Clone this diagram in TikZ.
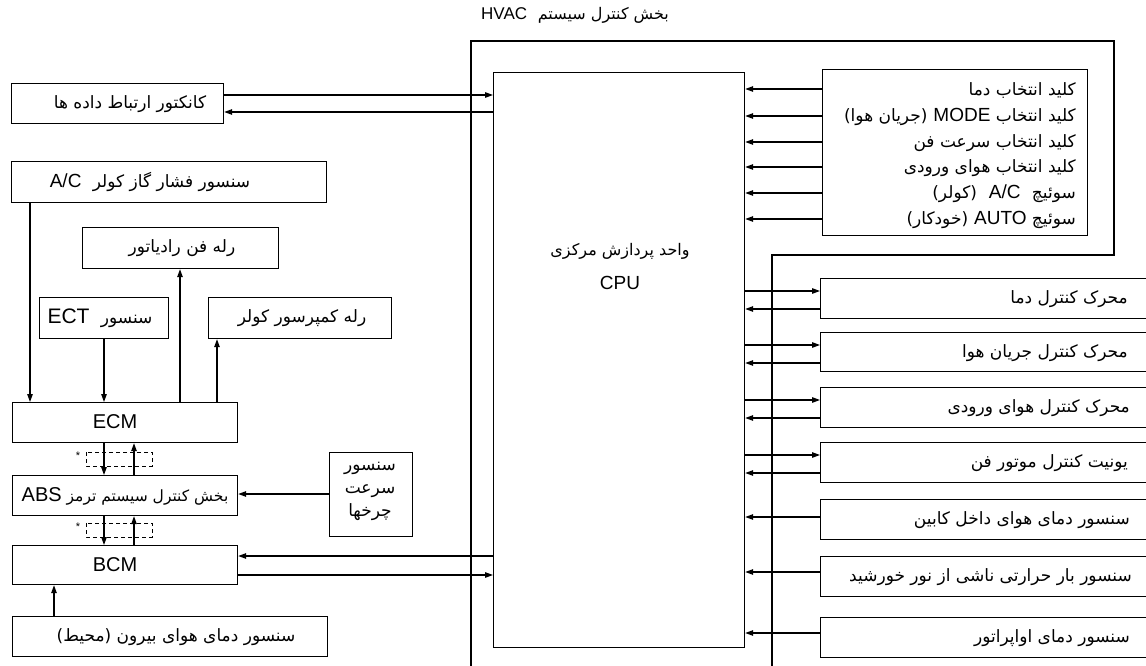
\documentclass[tikz,border=0pt]{standalone}
\usepackage{fontspec}
\setmainfont{Liberation Sans}
\newfontfamily\fa[Script=Arabic]{DejaVu Sans}
\TeXXeTstate=1
\usetikzlibrary{arrows.meta,calc}
\newcommand\FA[1]{{\fa\beginR #1\endR}}
\newcommand\LT[1]{\beginL{\normalfont #1}\endL}
\newcommand\gap{\hspace{0.35em}}
\tikzset{
  ln/.style={line width=1.2pt},
  arr/.style={ln,-{Triangle[length=8pt,width=5.5pt]}},
  box/.style={draw,ln,rectangle,inner sep=0pt,anchor=north west},
  dsh/.style={line width=1pt,dash pattern=on 4pt off 3pt},
  fa/.style={inner sep=0pt,font=\fontsize{17}{20}\selectfont},
  lat/.style={inner sep=0pt,font=\fontsize{20}{24}\selectfont},
}
\begin{document}
\begin{tikzpicture}[x=1pt,y=-1pt]
\useasboundingbox (0,0) rectangle (1146,666);
% HVAC enclosure
\node[fa,font=\fontsize{16}{18}\selectfont] (ttl) at (575,15) {\FA{بخش کنترل سیستم \gap\LT{\fontsize{17}{18}\selectfont HVAC}}};
\draw[ln] (471,680) -- (471,41) -- (1114,41) -- (1114,255) -- (772,255) -- (772,680);
% CPU
\node[box,minimum width=251pt,minimum height=575pt] (cpu) at (493,72) {};
\node[fa,font=\fontsize{16}{18}\selectfont] (cpua) at (620,251) {\FA{واحد پردازش مرکزی}};
\node[lat,font=\fontsize{19}{22}\selectfont] (cpub) at (620,283) {CPU};
% switch box
\node[box,minimum width=265pt,minimum height=166pt] (sw) at (822,69) {};
\node[fa,anchor=east] (s1) at (1076,90) {\FA{کلید انتخاب دما}};
\node[fa,anchor=east] (s2) at (1076,117) {\FA{کلید انتخاب \LT{\fontsize{19}{20}\selectfont MODE}\gap (جریان هوا)}};
\node[fa,anchor=east] (s3) at (1076,143) {\FA{کلید انتخاب سرعت فن}};
\node[fa,anchor=east] (s4) at (1076,168) {\FA{کلید انتخاب هوای ورودی}};
\node[fa,anchor=east] (s5) at (1076,194) {\FA{سوئیچ \gap\LT{\fontsize{19}{20}\selectfont A/C}\gap\gap (کولر)}};
\node[fa,anchor=east] (s6) at (1076,220) {\FA{سوئیچ \LT{\fontsize{19}{20}\selectfont AUTO}\gap (خودکار)}};
\foreach \y in {89,116,142,167,193,219}{
  \draw[arr] (sw.west |- 0,\y) -- (cpu.east |- 0,\y);
}
% right boxes
\node[box,minimum width=340pt,minimum height=40pt] (r1) at (820,278) {};
\node[box,minimum width=340pt,minimum height=39pt] (r2) at (820,332) {};
\node[box,minimum width=340pt,minimum height=40pt] (r3) at (820,387) {};
\node[box,minimum width=340pt,minimum height=40pt] (r4) at (820,442) {};
\node[box,minimum width=340pt,minimum height=40pt] (r5) at (820,499) {};
\node[box,minimum width=340pt,minimum height=40pt] (r6) at (820,556) {};
\node[box,minimum width=340pt,minimum height=40pt] (r7) at (820,617) {};
\node[fa,anchor=east] (t1) at (1128,299) {\FA{محرک کنترل دما}};
\node[fa,anchor=east] (t2) at (1128,353) {\FA{محرک کنترل جریان هوا}};
\node[fa,anchor=east] (t3) at (1130,408) {\FA{محرک کنترل هوای ورودی}};
\node[fa,anchor=east] (t4) at (1128,463) {\FA{یونیت کنترل موتور فن}};
\node[fa,anchor=east] (t5) at (1130,520) {\FA{سنسور دمای هوای داخل کابین}};
\node[fa,anchor=east] (t6) at (1132,577) {\FA{سنسور بار حرارتی ناشی از نور خورشید}};
\node[fa,anchor=east] (t7) at (1130,638) {\FA{سنسور دمای اواپراتور}};
\draw[arr] (cpu.east |- 0,291) -- (r1.west |- 0,291);
\draw[arr] (r1.west |- 0,309) -- (cpu.east |- 0,309);
\draw[arr] (cpu.east |- 0,345) -- (r2.west |- 0,345);
\draw[arr] (r2.west |- 0,363) -- (cpu.east |- 0,363);
\draw[arr] (cpu.east |- 0,400) -- (r3.west |- 0,400);
\draw[arr] (r3.west |- 0,418) -- (cpu.east |- 0,418);
\draw[arr] (cpu.east |- 0,455) -- (r4.west |- 0,455);
\draw[arr] (r4.west |- 0,473) -- (cpu.east |- 0,473);
\draw[arr] (r5.west |- 0,517) -- (cpu.east |- 0,517);
\draw[arr] (r6.west |- 0,572) -- (cpu.east |- 0,572);
\draw[arr] (r7.west |- 0,633) -- (cpu.east |- 0,633);
% left side
\node[box,minimum width=212pt,minimum height=40pt] (dl) at (11,83) {};
\node[fa] (dlt) at (130,104) {\FA{کانکتور ارتباط داده ها}};
\draw[arr] (dl.east |- 0,95) -- (cpu.west |- 0,95);
\draw[arr] (cpu.west |- 0,112) -- (dl.east |- 0,112);
\node[box,minimum width=315pt,minimum height=41pt] (acp) at (11,161) {};
\node[fa] (acpt) at (150,182) {\FA{سنسور فشار گاز کولر \gap\LT{\fontsize{19}{20}\selectfont A/C}}};
\node[box,minimum width=196pt,minimum height=41pt] (rfr) at (82,227) {};
\node[fa] (rfrt) at (182,248) {\FA{رله فن رادیاتور}};
\node[box,minimum width=129pt,minimum height=41pt] (ect) at (39,297) {};
\node[fa] (ectt) at (100,318) {\FA{سنسور \gap\LT{\fontsize{21}{22}\selectfont ECT}}};
\node[box,minimum width=183pt,minimum height=41pt] (crl) at (208,297) {};
\node[fa] (crlt) at (302,318) {\FA{رله کمپرسور کولر}};
\node[box,minimum width=225pt,minimum height=40pt] (ecm) at (12,402) {};
\node[lat] (ecmt) at (115,422) {ECM};
\node[box,minimum width=225pt,minimum height=40pt] (abs) at (12,475) {};
\node[fa,font=\fontsize{15.5}{16}\selectfont] (abst) at (125,496) {\FA{بخش کنترل سیستم ترمز \LT{\fontsize{20}{20}\selectfont ABS}}};
\node[box,minimum width=225pt,minimum height=39pt] (bcm) at (12,545) {};
\node[lat] (bcmt) at (115,565) {BCM};
\node[box,minimum width=315pt,minimum height=40pt] (ots) at (12,616) {};
\node[fa] (otst) at (176,637) {\FA{سنسور دمای هوای بیرون (محیط)}};
\node[box,minimum width=83pt,minimum height=84pt] (wss) at (329,452) {};
\node[fa,align=center,font=\fontsize{17}{23}\selectfont] (wsst) at (370,491) {\FA{سنسور}\\\FA{سرعت}\\\FA{چرخها}};
% left connections
\draw[arr] (acp.south -| 30,0) -- (ecm.north -| 30,0);
\draw[arr] (ect.south -| 104,0) -- (ecm.north -| 104,0);
\draw[arr] (ecm.north -| 180,0) -- (rfr.south -| 180,0);
\draw[arr] (ecm.north -| 217,0) -- (crl.south -| 217,0);
\draw[arr] (ecm.south -| 104,0) -- (abs.north -| 104,0);
\draw[arr] (abs.north -| 134,0) -- (ecm.south -| 134,0);
\draw[arr] (abs.south -| 104,0) -- (bcm.north -| 104,0);
\draw[arr] (bcm.north -| 134,0) -- (abs.south -| 134,0);
\draw[arr] (ots.north -| 54,0) -- (bcm.south -| 54,0);
\draw[arr] (wss.west |- 0,494) -- (abs.east |- 0,494);
\draw[arr] (cpu.west |- 0,556) -- (bcm.east |- 0,556);
\draw[arr] (bcm.east |- 0,575) -- (cpu.west |- 0,575);
% dashed optional links
\draw[dsh] (86,452) rectangle (152,466);
\draw[dsh] (86,523) rectangle (152,537);
\node[inner sep=0pt,font=\fontsize{11}{12}\selectfont] (st1) at (78,456) {*};
\node[inner sep=0pt,font=\fontsize{11}{12}\selectfont] (st2) at (78,527) {*};
\end{tikzpicture}
\end{document}
